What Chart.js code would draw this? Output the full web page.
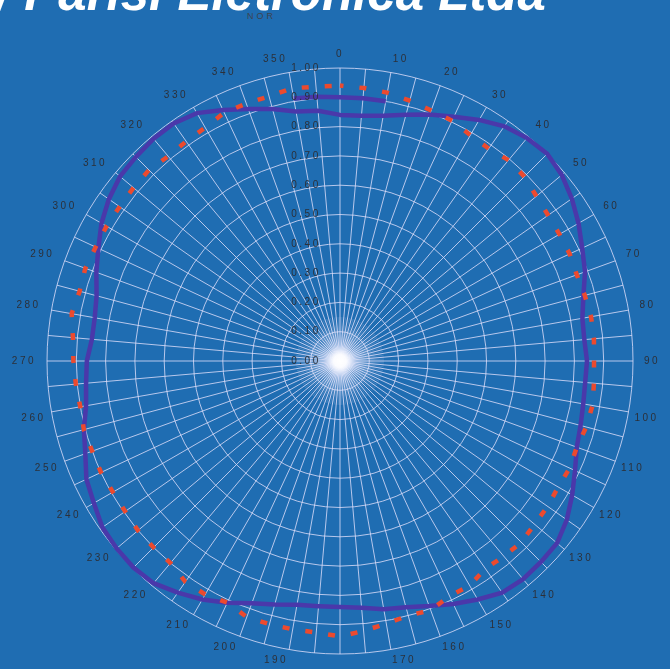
<!DOCTYPE html>
<html>
<head>
<meta charset="utf-8">
<script src="https://cdn.jsdelivr.net/npm/chart.js@4"></script>
<style>
  html, body { margin: 0; padding: 0; background: #1f6db2; overflow: hidden; }
  body { width: 670px; height: 669px; position: relative; }
  #title { position: absolute; left: -4px; top: -33px; font: italic bold 51px 'Liberation Sans', Arial, sans-serif; color: #fff; line-height: 1; white-space: nowrap; }
  #nor { position: absolute; left: 247px; top: 11px; font: 9px 'Liberation Sans', Arial, sans-serif; letter-spacing: 3px; color: #3d4350; }
  #polar { position: absolute; left: 0; top: 0; }
</style>
</head>
<body>
<div id="title">/ Parisi Eletronica Ltda</div>
<div id="nor">NOR</div>
<canvas id="polar" width="670" height="669"></canvas>
<script>
// one point every 5 degrees, labels every 10
const angleLabels = [
  '0','','10','','20','','30','','40','','50','','60','','70','','80','',
  '90','','100','','110','','120','','130','','140','','150','','160','','170','',
  '180','','190','','200','','210','','220','','230','','240','','250','','260','',
  '270','','280','','290','','300','','310','','320','','330','','340','','350',''
];
const tickValues = [0, 0.1, 0.2, 0.3, 0.4, 0.5, 0.6, 0.7, 0.8, 0.9, 1.0];
const tickLabels = ['0.00','0.10','0.20','0.30','0.40','0.50','0.60','0.70','0.80','0.90','1.00'];

const dashedSeries = [
  0.94, 0.935, 0.93, 0.92, 0.91, 0.905, 0.89, 0.885, 0.895, 0.89, 0.875, 0.867,
  0.865, 0.865, 0.86, 0.865, 0.87, 0.87, 0.867, 0.87, 0.875, 0.87, 0.86, 0.865,
  0.86, 0.865, 0.867, 0.875, 0.87, 0.865, 0.885, 0.885, 0.905, 0.9, 0.91, 0.925,
  0.94, 0.93, 0.93, 0.93, 0.93, 0.91, 0.92, 0.92, 0.9, 0.9, 0.9, 0.895,
  0.895, 0.9, 0.9, 0.905, 0.9, 0.905, 0.91, 0.915, 0.93, 0.92, 0.925, 0.92,
  0.92, 0.918, 0.92, 0.922, 0.912, 0.915, 0.92, 0.935, 0.935, 0.935, 0.945, 0.94
];
const solidSeries = [
  0.84, 0.84, 0.85, 0.87, 0.895, 0.92, 0.95, 0.978, 0.993, 1.0, 0.988, 0.966,
  0.94, 0.912, 0.89, 0.86, 0.84, 0.837, 0.843, 0.84, 0.843, 0.85, 0.86, 0.885,
  0.915, 0.945, 0.967, 0.97, 0.972, 0.965, 0.94, 0.915, 0.89, 0.87, 0.86, 0.845,
  0.84, 0.84, 0.845, 0.86, 0.88, 0.91, 0.94, 0.965, 0.99, 0.997, 0.995, 0.99,
  0.97, 0.955, 0.925, 0.905, 0.88, 0.87, 0.864, 0.85, 0.85, 0.86, 0.885, 0.91,
  0.94, 0.963, 0.98, 0.985, 0.99, 0.99, 0.977, 0.945, 0.915, 0.89, 0.865, 0.857
];
// short loose piece of the solid trace near the top
const solidStart = [
  0.9, 0.9, 0.9, null, null, null, null, null, null, null, null, null,
  null, null, null, null, null, null, null, null, null, null, null, null,
  null, null, null, null, null, null, null, null, null, null, null, null,
  null, null, null, null, null, null, null, null, null, null, null, null,
  null, null, null, null, null, null, null, null, null, null, null, null,
  null, null, null, null, null, null, null, null, null, null, 0.91, 0.905
];

const gridColor = 'rgba(222, 222, 250, 0.8)';
const textColor = '#2c3039';

// bright hub with the dense spokes around the centre
const centerGlow = {
  id: 'centerGlow',
  beforeDatasetsDraw(chart) {
    const s = chart.scales.r;
    const ctx = chart.ctx;
    const hub = s.getDistanceFromCenterForValue(0.15);
    ctx.save();
    ctx.strokeStyle = 'rgba(225,225,250,0.35)';
    ctx.lineWidth = 0.6;
    for (let a = 0; a < 360; a += 2.5) {
      const t = a * Math.PI / 180;
      ctx.beginPath();
      ctx.moveTo(s.xCenter, s.yCenter);
      ctx.lineTo(s.xCenter + hub * Math.sin(t), s.yCenter - hub * Math.cos(t));
      ctx.stroke();
    }
    const g = ctx.createRadialGradient(s.xCenter, s.yCenter, 0, s.xCenter, s.yCenter, 36);
    g.addColorStop(0, 'rgba(255,255,255,1)');
    g.addColorStop(0.18, 'rgba(255,255,255,0.9)');
    g.addColorStop(0.45, 'rgba(230,235,255,0.3)');
    g.addColorStop(1, 'rgba(230,235,255,0)');
    ctx.fillStyle = g;
    ctx.beginPath();
    ctx.arc(s.xCenter, s.yCenter, 36, 0, Math.PI * 2);
    ctx.fill();
    ctx.restore();
  }
};

const polarText = {
  id: 'polarText',
  afterDraw(chart) {
    const s = chart.scales.r;
    const ctx = chart.ctx;
    ctx.save();
    ctx.font = '10px "Liberation Sans", Arial, sans-serif';
    ctx.fillStyle = textColor;
    ctx.letterSpacing = '2.5px';
    angleLabels.forEach((lab, i) => {
      if (!lab) return;
      const deg = Number(lab);
      const upper = deg > 270 || deg < 90;
      const side = deg === 90 || deg === 270;
      let gap = upper || side ? 11 : 6;
      if (deg === 180) gap = 16; // sits just below the picture edge in the original
      const p = s.getPointPosition(i, s.drawingArea + gap);
      ctx.textAlign = (deg === 0 || deg === 180) ? 'center' : deg < 180 ? 'left' : 'right';
      ctx.textBaseline = side ? 'middle' : upper ? 'alphabetic' : 'top';
      ctx.fillText(lab, p.x, p.y);
    });
    ctx.textAlign = 'center';
    ctx.textBaseline = 'middle';
    tickLabels.forEach((lab, i) => {
      const r = s.getDistanceFromCenterForValue(tickValues[i]);
      ctx.fillText(lab, s.xCenter - 34, s.yCenter - r);
    });
    ctx.restore();
  }
};

new Chart(document.getElementById('polar'), {
  type: 'radar',
  data: {
    labels: angleLabels,
    datasets: [
      { data: dashedSeries, borderColor: '#ec4a2e', borderWidth: 4.5, borderDash: [7, 16], borderDashOffset: 3.5, pointRadius: 0, fill: false },
      { data: solidStart, borderColor: '#4a38aa', borderWidth: 4.5, pointRadius: 0, fill: false, spanGaps: false },
      { data: solidSeries, borderColor: '#4a38aa', borderWidth: 4.5, pointRadius: 0, fill: false }
    ]
  },
  options: {
    responsive: false,
    animation: false,
    layout: { padding: { left: 47, right: 37, top: 68, bottom: 15 } },
    plugins: { legend: { display: false }, tooltip: { enabled: false } },
    scales: {
      r: {
        min: 0, max: 1,
        ticks: { display: false, stepSize: 0.1 },
        grid: { circular: true, color: gridColor, lineWidth: 1 },
        angleLines: { color: gridColor, lineWidth: 1 },
        pointLabels: { display: false }
      }
    }
  },
  plugins: [centerGlow, polarText]
});
</script>
</body>
</html>
